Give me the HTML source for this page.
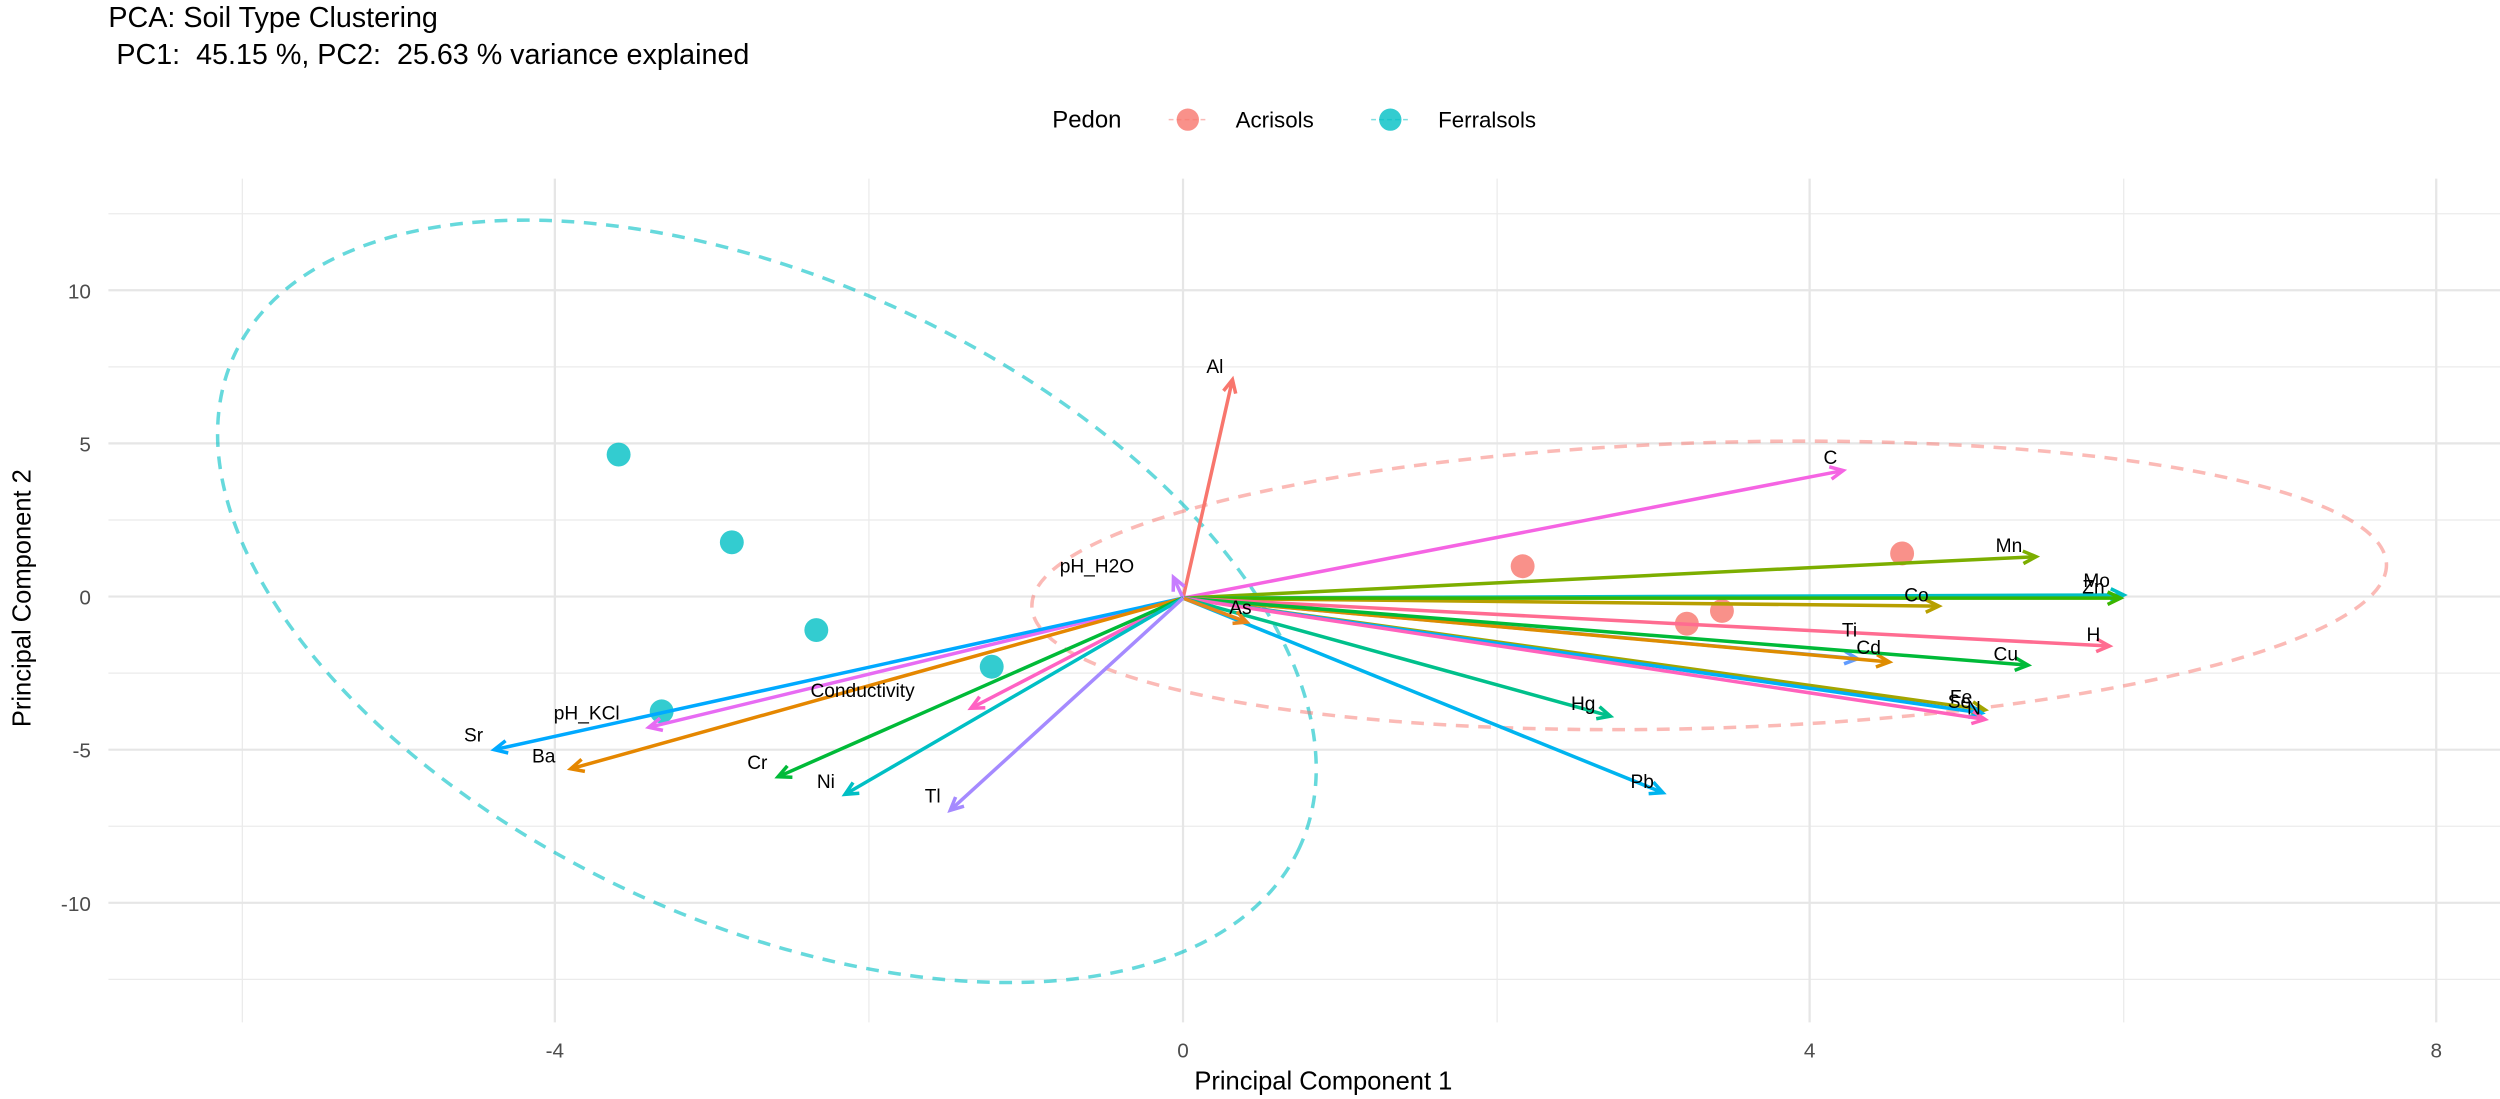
<!DOCTYPE html>
<html><head><meta charset="utf-8"><style>
html,body{margin:0;padding:0;background:#fff;}
svg{display:block;}
text{font-family:"Liberation Sans",Arial,sans-serif;}
</style></head><body>
<svg id="s" width="2500" height="1099" viewBox="0 0 1568 689" preserveAspectRatio="none" xmlns="http://www.w3.org/2000/svg">
<rect width="1568" height="689" fill="#fff"/>
<g id="grid"></g>
<ellipse cx="481" cy="377" rx="368" ry="201" transform="rotate(24.8 481 377)" fill="none" stroke="#00BFC4" stroke-opacity="0.6" stroke-width="2.2" stroke-dasharray="8,6"/>
<ellipse cx="1072" cy="367" rx="425" ry="89.5" transform="rotate(-1.8 1072 367)" fill="none" stroke="#F8766D" stroke-opacity="0.5" stroke-width="2.2" stroke-dasharray="8,6"/>
<g id="pts"></g>
<g id="arr"></g>
<g id="lbl" font-size="12" fill="#000"></g>
<text x="68" y="17" font-size="18" fill="#000">PCA: Soil Type Clustering</text>
<text x="68" y="40" font-size="18" fill="#000" xml:space="preserve"> PC1:  45.15 %, PC2:  25.63 % variance explained</text>
<text x="660" y="80" font-size="15" fill="#000">Pedon</text>
<line x1="733" y1="75" x2="757" y2="75" stroke="#F8766D" stroke-opacity="0.5" stroke-dasharray="3,2"/>
<circle cx="745" cy="75" r="7" fill="#F8766D" fill-opacity="0.8"/>
<text x="775" y="80" font-size="14" fill="#000">Acrisols</text>
<line x1="860" y1="75" x2="884" y2="75" stroke="#00BFC4" stroke-opacity="0.5" stroke-dasharray="3,2"/>
<circle cx="872" cy="75" r="7" fill="#00BFC4" fill-opacity="0.8"/>
<text x="902" y="80" font-size="14" fill="#000">Ferralsols</text>
<g font-size="13" fill="#4d4d4d">
<text x="57" y="187" text-anchor="end">10</text>
<text x="57" y="283" text-anchor="end">5</text>
<text x="57" y="379" text-anchor="end">0</text>
<text x="57" y="475" text-anchor="end">-5</text>
<text x="57" y="571" text-anchor="end">-10</text>
<text x="348" y="663" text-anchor="middle">-4</text>
<text x="742" y="663" text-anchor="middle">0</text>
<text x="1135" y="663" text-anchor="middle">4</text>
<text x="1528" y="663" text-anchor="middle">8</text>
</g>
<text x="830" y="683" font-size="16" text-anchor="middle" fill="#000">Principal Component 1</text>
<text transform="translate(19,375) rotate(-90)" font-size="16" text-anchor="middle" fill="#000">Principal Component 2</text>
</svg>
<script>
const NS="http://www.w3.org/2000/svg";
function el(p,t,a){const e=document.createElementNS(NS,t);for(const k in a)e.setAttribute(k,a[k]);p.appendChild(e);return e;}
const g=document.getElementById('grid');
[152,545,939,1332].forEach(x=>el(g,'line',{x1:x,y1:112,x2:x,y2:641,stroke:'#ebebeb','stroke-width':0.8}));
[134,230,326,422,518,614].forEach(y=>el(g,'line',{x1:68,y1:y,x2:1568,y2:y,stroke:'#ebebeb','stroke-width':0.8}));
[348,742,1135,1528].forEach(x=>el(g,'line',{x1:x,y1:112,x2:x,y2:641,stroke:'#e6e6e6','stroke-width':1.4}));
[182,278,374,470,566].forEach(y=>el(g,'line',{x1:68,y1:y,x2:1568,y2:y,stroke:'#e6e6e6','stroke-width':1.4}));
const P=document.getElementById('pts');
[[388,285],[459,340],[512,395],[622,418],[415,446]].forEach(p=>el(P,'circle',{cx:p[0],cy:p[1],r:7.5,fill:'#00BFC4','fill-opacity':0.8}));
[[955,355],[1193,347],[1080,383],[1058,391]].forEach(p=>el(P,'circle',{cx:p[0],cy:p[1],r:7.5,fill:'#F8766D','fill-opacity':0.8}));
const ox=742,oy=375;
const A=[
['Al',773,238,'#F8766D',762,234],
['C',1156,295,'#F564E3',1148,291],
['Mn',1277,349,'#7CAE00',1260,346],
['Co',1216,380,'#B79F00',1202,377],
['Mo',1332,373,'#00BFC4',1315,368],
['Zn',1330,375,'#39B600',1313,372],
['H',1323,405,'#FF6C91',1313,402],
['Ti',1165,413,'#619CFF',1160,399],
['Cd',1185,415,'#DE8C00',1172,410],
['Cu',1272,417,'#00BA38',1258,414],
['Fe',1245,445,'#A3A500',1230,441],
['Se',1243,447,'#00B0F6',1229,444],
['N',1245,451,'#FF62BC',1238,448],
['Hg',1010,449,'#00C08B',993,445],
['Pb',1043,497,'#00B4EF',1030,494],
['As',782,390,'#E7861B',778,385],
['pH_H2O',736,362,'#C77CFF',688,359],
['Conductivity',609,444,'#FF61C3',541,437],
['pH_KCl',407,456,'#E76BF3',368,451],
['Sr',310,470,'#00A9FF',297,465],
['Ba',358,482,'#E58700',341,478],
['Cr',488,487,'#00BA38',475,482],
['Ni',530,498,'#00BFC4',518,494],
['Tl',596,508,'#A58AFF',585,503]];
const R=document.getElementById('arr'),L=document.getElementById('lbl');
A.forEach(a=>{const [n,x,y,c,lx,ly]=a;
el(R,'line',{x1:ox,y1:oy,x2:x,y2:y,stroke:c,'stroke-width':2.2});
const ang=Math.atan2(y-oy,x-ox),h=9,s=0.45;
const p1=[x-h*Math.cos(ang-s),y-h*Math.sin(ang-s)],p2=[x-h*Math.cos(ang+s),y-h*Math.sin(ang+s)];
el(R,'polyline',{points:`${p1} ${x},${y} ${p2}`,fill:'none',stroke:c,'stroke-width':2.2});
const t=el(L,'text',{x:lx,y:ly,'text-anchor':'middle'});t.textContent=n;});
</script>
</body></html>
